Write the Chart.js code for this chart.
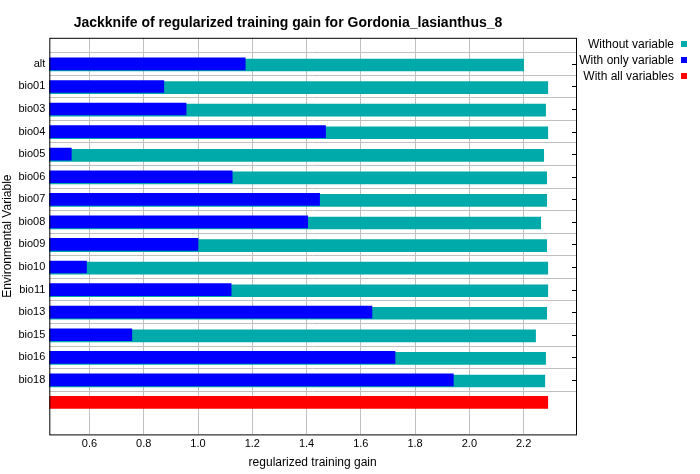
<!DOCTYPE html>
<html><head><script src="https://cdn.jsdelivr.net/npm/chart.js@4"></script>
<style>body{margin:0;background:#fff}#w{width:700px;height:474px}</style></head>
<body><div id="w"><canvas id="c"></canvas></div>
<script>
const categories=["alt","bio01","bio03","bio04","bio05","bio06","bio07","bio08","bio09","bio10","bio11","bio13","bio15","bio16","bio18"];
const withoutVar=[2.200,2.289,2.281,2.289,2.274,2.285,2.285,2.263,2.285,2.289,2.289,2.285,2.244,2.281,2.278];
const withOnly=[1.174,0.874,0.956,1.470,0.533,1.126,1.448,1.404,1.000,0.589,1.122,1.641,0.756,1.726,1.941];
const allVars=2.289;
const xTicks=[0.6,0.8,1.0,1.2,1.4,1.6,1.8,2.0,2.2];
const F="Arial, 'Liberation Sans', sans-serif";
const legendItems=[["Without variable","#00aaaa"],["With only variable","#0000ff"],["With all variables","#ff0000"]];
const legendPlugin={id:'lg',afterDraw(ch){const x=ch.ctx;x.save();x.font="12px "+F;x.textAlign="right";x.textBaseline="middle";
legendItems.forEach((it,i)=>{const y=45+i*16;x.fillStyle="#000";x.fillText(it[0],674,y);x.fillStyle=it[1];x.fillRect(681,y-4,6,6);});
const a=ch.chartArea;x.strokeStyle="#000";x.lineWidth=1;x.strokeRect(a.left+0.5,a.top+0.5,a.right-a.left,a.bottom-a.top);
const ys=ch.scales.y;x.beginPath();categories.forEach((c,i)=>{const py=Math.round(ys.getPixelForValue(i))+0.5;x.moveTo(a.right-4,py);x.lineTo(a.right+1,py);});x.stroke();
x.restore();}};
new Chart(document.getElementById('c'),{type:'bar',
data:{datasets:[
{label:'only',data:withOnly.map((v,i)=>({x:v,y:i})),backgroundColor:'#0000ff',barThickness:12,grouped:false,order:1},
{label:'without',data:withoutVar.map((v,i)=>({x:v,y:i+0.05})),backgroundColor:'#00aaaa',barThickness:12,grouped:false,order:2},
{label:'all',data:[{x:allVars,y:15}],backgroundColor:'#ff0000',barThickness:12,grouped:false,order:0}
]},
options:{indexAxis:'y',responsive:true,maintainAspectRatio:false,animation:false,
layout:{padding:{right:124,top:9,left:0}},
plugins:{legend:{display:false},tooltip:{enabled:false},
title:{display:true,text:'Jackknife of regularized training gain for Gordonia_lasianthus_8',color:'#000',font:{family:F,size:14,weight:'bold'},padding:{top:6,bottom:6}}},
scales:{
x:{type:'linear',min:0.452,max:2.393,afterBuildTicks(s){s.ticks=xTicks.map(v=>({value:v}));},
ticks:{color:'#000',font:{family:F,size:11},callback:v=>v.toFixed(1)},
grid:{color:'#c0c0c0',drawTicks:false},border:{display:false},
title:{display:true,text:'regularized training gain',color:'#000',font:{family:F,size:12},padding:{top:2}}},
y:{type:'linear',reverse:true,min:-0.57,max:15.83,afterBuildTicks(s){s.ticks=categories.map((c,i)=>({value:i}));},
ticks:{color:'#000',font:{family:F,size:11},padding:4,callback:v=>categories[v]||''},
grid:{color:'#c0c0c0',drawTicks:false},border:{display:false},
title:{display:true,text:'Environmental Variable',color:'#000',font:{family:F,size:12},padding:{bottom:0,top:0}}}
}},plugins:[legendPlugin]});
</script></body></html>
